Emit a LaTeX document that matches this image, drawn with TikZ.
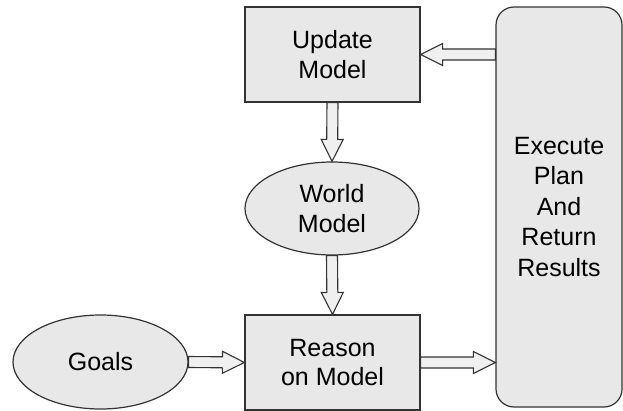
\documentclass[tikz,border=0pt]{standalone}
\usepackage{fontspec}
\setmainfont{Liberation Sans}
\usetikzlibrary{shapes.geometric,calc}
\definecolor{nodefill}{HTML}{E8E8E8}
\definecolor{arrowfill}{HTML}{F0F0F0}
\definecolor{edge}{HTML}{333333}
\tikzset{
  base/.style={draw=edge, fill=nodefill, line width=1.2pt, align=center, inner sep=0pt,
    font=\fontsize{25}{29.5}\selectfont},
  boxnode/.style={base, rectangle, minimum width=175pt, minimum height=95pt},
  ellnode/.style={base, ellipse, minimum width=174pt, minimum height=93pt},
  execnode/.style={base, rectangle, rounded corners=18pt, minimum width=126pt, minimum height=400pt,
    font=\fontsize{25}{30.5}\selectfont},
  fatarrowstyle/.style={draw=edge, fill=arrowfill, line width=1.1pt, line join=miter}
}
\newcommand\fatarrow[2]{%
  \filldraw[fatarrowstyle] let \p1=(#1), \p2=(#2),
    \n1={veclen(\x2-\x1,\y2-\y1)}, \n2={atan2(\y2-\y1,\x2-\x1)} in
    ($(\p1)+(\n2+90:5.5pt)$) --
    ($(\p1)+(\n2:{(\n1-22)*1pt})+(\n2+90:5.5pt)$) --
    ($(\p1)+(\n2:{(\n1-22)*1pt})+(\n2+90:11pt)$) --
    (\p2) --
    ($(\p1)+(\n2:{(\n1-22)*1pt})+(\n2-90:11pt)$) --
    ($(\p1)+(\n2:{(\n1-22)*1pt})+(\n2-90:5.5pt)$) --
    ($(\p1)+(\n2-90:5.5pt)$) -- cycle;
}
\begin{document}
\begin{tikzpicture}[x=1pt,y=-1pt]
\useasboundingbox (0,0) rectangle (623,411);
\node[boxnode] (update) at (332.5,54.5) {Update\\Model};
\node[ellnode] (world) at (332,208.5) {World\\Model};
\node[boxnode] (reason) at (332.5,362.5) {Reason\\on Model};
\node[ellnode, minimum width=175pt, minimum height=94pt] (goals) at (100.5,362) {Goals};
\node[execnode] (exec) at (559,207) {Execute\\Plan\\And\\Return\\Results};
\fatarrow{update.south}{world.north}
\fatarrow{world.south}{reason.north}
\fatarrow{goals.east}{reason.west}
\fatarrow{reason.east}{reason.east -| exec.west}
\fatarrow{update.east -| exec.west}{update.east}
\end{tikzpicture}
\end{document}
